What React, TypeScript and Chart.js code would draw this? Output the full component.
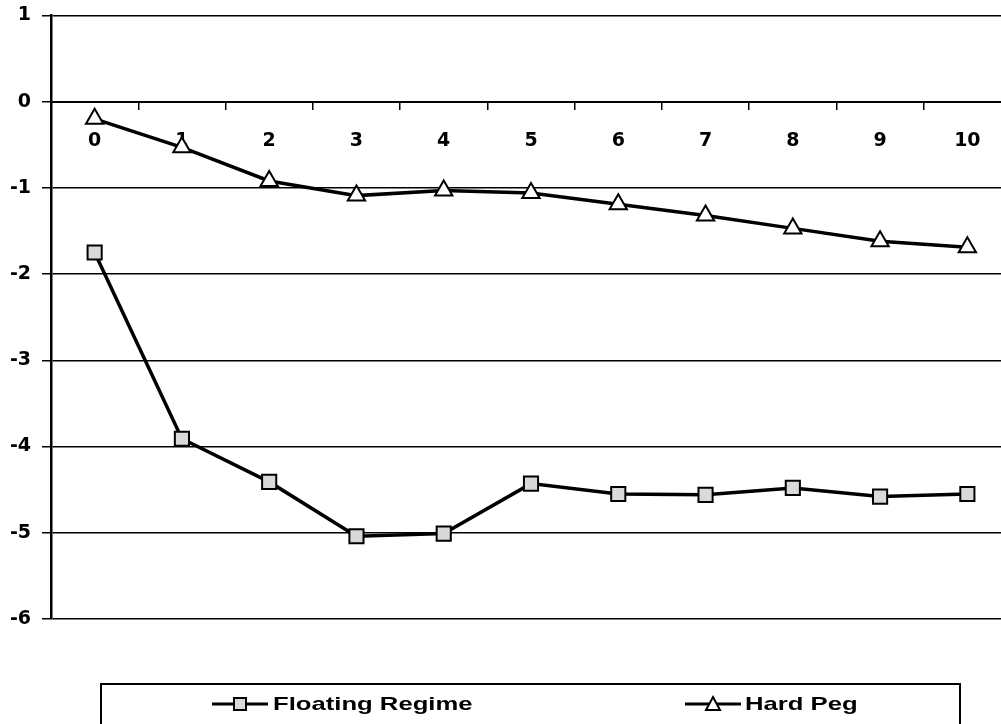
import React, { useEffect, useRef } from "react";
import { Chart, registerables } from "chart.js";

Chart.register(...registerables);

const categories = ["0", "1", "2", "3", "4", "5", "6", "7", "8", "9", "10"];
const floatingRegime = [-1.75, -3.91, -4.41, -5.04, -5.01, -4.43, -4.55, -4.56, -4.48, -4.58, -4.55];
const hardPeg = [-0.2, -0.53, -0.92, -1.09, -1.03, -1.06, -1.19, -1.32, -1.47, -1.62, -1.69];
const seriesNames = ["Floating Regime", "Hard Peg"];
const yMin = -6;
const yMax = 1;
const yStep = 1;

const tickFont = { family: "'DejaVu Sans', sans-serif", weight: "bold" as const, size: 19 };

export default function App() {
  const canvasRef = useRef<HTMLCanvasElement | null>(null);

  useEffect(() => {
    if (!canvasRef.current) return;
    const chart = new Chart(canvasRef.current, {
      type: "line",
      data: {
        labels: categories,
        datasets: [
          {
            label: seriesNames[0],
            data: floatingRegime,
            borderColor: "#000",
            borderWidth: 3.5,
            pointStyle: "rect",
            pointRadius: 10,
            pointBackgroundColor: "#d9d9d9",
            pointBorderColor: "#000",
            pointBorderWidth: 2,
            tension: 0,
            fill: false,
          },
          {
            label: seriesNames[1],
            data: hardPeg,
            borderColor: "#000",
            borderWidth: 3.5,
            pointStyle: "triangle",
            pointRadius: 10,
            pointBackgroundColor: "#fff",
            pointBorderColor: "#000",
            pointBorderWidth: 2,
            tension: 0,
            fill: false,
          },
        ],
      },
      options: {
        responsive: false,
        animation: false,
        devicePixelRatio: 1,
        layout: { padding: { left: 0, right: 0, top: 8, bottom: 98 } },
        plugins: { legend: { display: false }, tooltip: { enabled: false } },
        scales: {
          x: {
            type: "category",
            position: { y: 0 } as any,
            offset: true,
            grid: {
              display: true,
              drawOnChartArea: false,
              drawTicks: true,
              tickLength: 7,
              color: "#000",
              lineWidth: 1.5,
              offset: true,
            },
            border: { display: true, color: "#000", width: 2 },
            ticks: {
              color: "#000",
              font: tickFont,
              padding: 21,
              maxRotation: 0,
              autoSkip: false,
            },
          },
          y: {
            min: yMin,
            max: yMax,
            ticks: { stepSize: yStep, color: "#000", font: tickFont, padding: 11 },
            grid: { color: "#000", lineWidth: 1.5, tickLength: 9 },
            border: { display: true, color: "#000", width: 2.5 },
            afterFit: (s: any) => {
              s.width = 51;
            },
          },
        },
      },
    });
    return () => chart.destroy();
  }, []);

  const textStyle: React.CSSProperties = {
    position: "absolute",
    top: 4,
    fontFamily: "'Liberation Sans', Arial, sans-serif",
    fontWeight: "bold",
    fontSize: 19,
    lineHeight: "30px",
    whiteSpace: "nowrap",
    transform: "scaleX(1.35)",
    transformOrigin: "left center",
    color: "#000",
  };

  return (
    <div
      style={{
        position: "fixed",
        left: 0,
        top: 0,
        width: 1001,
        height: 724,
        overflow: "hidden",
        background: "#fff",
      }}
    >
      <canvas
        ref={canvasRef}
        width={1023}
        height={724}
        style={{ position: "absolute", left: 0, top: -7, display: "block", width: 1023, height: 724 }}
      />
      <div
        style={{
          position: "absolute",
          left: 100,
          top: 683,
          width: 861,
          height: 60,
          border: "2px solid #000",
          boxSizing: "border-box",
        }}
      >
        <svg style={{ position: "absolute", left: 108, top: 9 }} width={60} height={20}>
          <line x1={2} y1={10} x2={58} y2={10} stroke="#000" strokeWidth={3} />
          <rect x={24} y={4} width={12} height={12} fill="#d9d9d9" stroke="#000" strokeWidth={2} />
        </svg>
        <div style={{ ...textStyle, left: 171 }}>{seriesNames[0]}</div>
        <svg style={{ position: "absolute", left: 581, top: 9 }} width={60} height={20}>
          <line x1={2} y1={10} x2={58} y2={10} stroke="#000" strokeWidth={3} />
          <polygon points="30,3 37,16 23,16" fill="#fff" stroke="#000" strokeWidth={2} />
        </svg>
        <div style={{ ...textStyle, left: 643 }}>{seriesNames[1]}</div>
      </div>
    </div>
  );
}
